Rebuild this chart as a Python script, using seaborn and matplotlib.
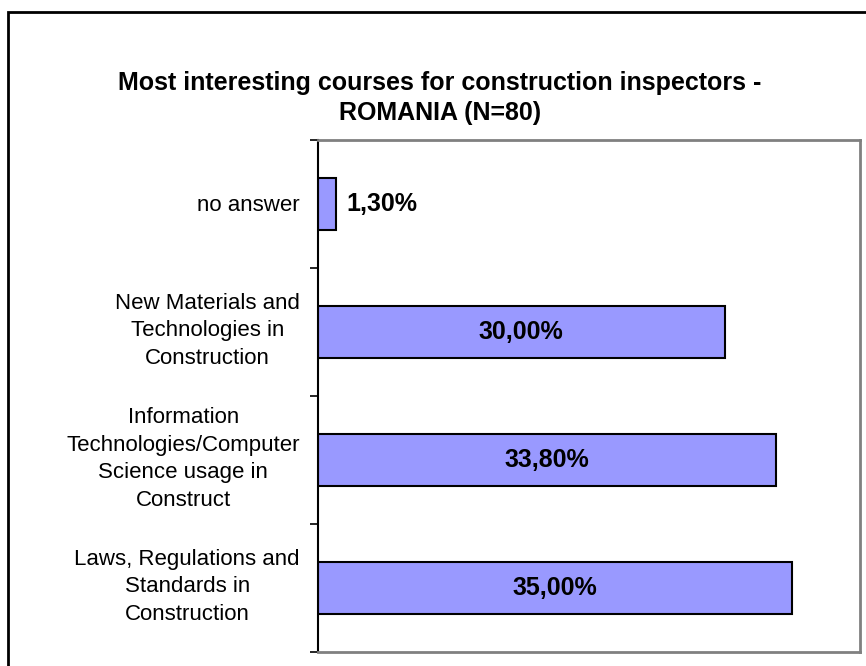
import matplotlib
matplotlib.use("Agg")
import matplotlib.pyplot as plt
import matplotlib.transforms as mtrans
import seaborn as sns
import pandas as pd
from matplotlib.patches import Rectangle

categories = [
    "no answer",
    "New Materials and\nTechnologies in\nConstruction",
    "Information\nTechnologies/Computer\nScience usage in\nConstruct",
    "Laws, Regulations and\nStandards in\nConstruction",
]
values = [1.3, 30.0, 33.8, 35.0]
title = "Most interesting courses for construction inspectors -\nROMANIA (N=80)"

sns.set_theme(style="white")
plt.rcParams["font.family"] = ["Liberation Sans", "DejaVu Sans"]
plt.rcParams["text.color"] = "black"
plt.rcParams["ytick.color"] = "black"
plt.rcParams["ytick.labelcolor"] = "black"

df = pd.DataFrame({"course": categories, "pct": values})

fig = plt.figure(figsize=(8.66, 6.66), dpi=100)
fig.patch.set_facecolor("white")
ax = fig.add_axes([318 / 866, 1 - 652 / 666, 542 / 866, 512 / 666])

sns.barplot(data=df, x="pct", y="course", order=categories, orient="h",
            color="#9999FF", edgecolor="black", linewidth=1.5, width=0.4,
            saturation=1, ax=ax)

ax.set_xlim(0, 40)
ax.set_ylim(3.5, -0.5)
ax.set_xlabel("")
ax.set_ylabel("")
ax.set_xticks([])

ax.set_yticks(range(len(categories)))
ax.set_yticklabels(categories, fontsize=16, linespacing=1.42,
                   multialignment="center", color="black")
ax.tick_params(axis="y", which="major", length=0, pad=13)
ax.set_yticks([-0.5, 0.5, 1.5, 2.5, 3.5], minor=True)
ax.tick_params(axis="y", which="minor", length=6, width=1.2, color="black",
               direction="out", left=True)

for lab in ax.get_yticklabels():
    shift = 7 if "\n" in lab.get_text() else 1
    lab.set_transform(lab.get_transform() +
                      mtrans.ScaledTranslation(0, shift / 100, fig.dpi_scale_trans))

for side in ["top", "right", "bottom"]:
    ax.spines[side].set_color("#808080")
    ax.spines[side].set_linewidth(2)
ax.spines["left"].set_color("black")
ax.spines["left"].set_linewidth(1.5)

for i, v in enumerate(values):
    label = f"{v:.2f}".replace(".", ",") + "%"
    if v < 5:
        ax.text(v + 0.8, i, label, ha="left", va="center",
                fontsize=18, fontweight="bold", color="black")
    else:
        ax.text(v / 2, i, label, ha="center", va="center",
                fontsize=18, fontweight="bold", color="black")

fig.text(440 / 866, 1 - 98 / 666, title, ha="center", va="center",
         fontsize=18, fontweight="bold", linespacing=1.3, color="black")

border = Rectangle((8 / 866, -0.1), 1.1, 1 - 12 / 666 + 0.1,
                   transform=fig.transFigure, fill=False,
                   edgecolor="black", linewidth=2, zorder=0)
fig.patches.append(border)

fig.savefig("out.png", dpi=100, facecolor="white")
